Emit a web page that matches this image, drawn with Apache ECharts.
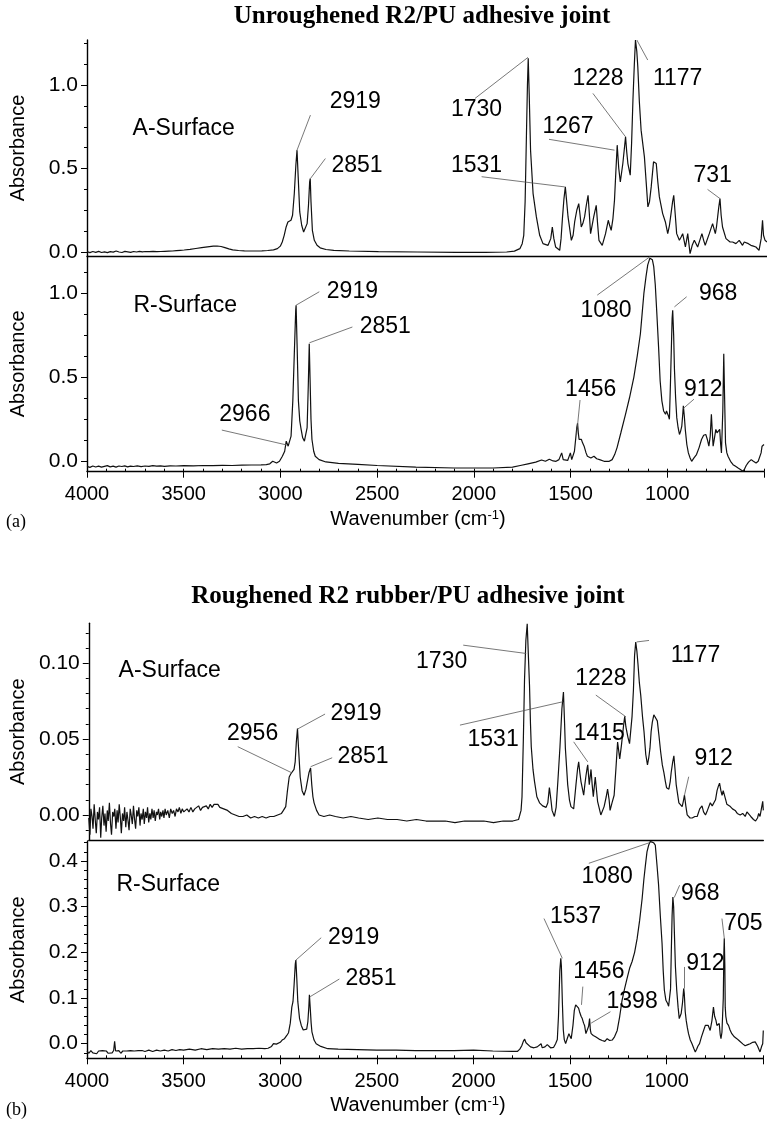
<!DOCTYPE html>
<html><head><meta charset="utf-8">
<script src="https://cdn.jsdelivr.net/npm/echarts@6/dist/echarts.min.js"></script>
<style>html,body{margin:0;padding:0;background:#fff}#c{width:767px;height:1125px}</style>
</head><body><div id="c"></div>
<script>
// ---------- DATA ----------
const xTickValues = [1000, 1500, 2000, 2500, 3000, 3500, 4000];
const titles = ['Unroughened R2/PU adhesive joint', 'Roughened R2 rubber/PU adhesive joint'];
const panelTags = ['(a)', '(b)'];
const surfaceNames = ['A-Surface', 'R-Surface', 'A-Surface', 'R-Surface'];

const yMajorA1 = [0, 0.5, 1.0];
const yMinorA1 = [0.125, 0.25, 0.375, 0.625, 0.75, 0.875, 1.125, 1.25];
const yMajorR1 = [0, 0.5, 1.0];
const yMinorR1 = [0.125, 0.25, 0.375, 0.625, 0.75, 0.875, 1.125];
const yMajorA2 = [0, 0.05, 0.10];
const yMinorA2 = [-0.01, 0.01, 0.02, 0.03, 0.04, 0.06, 0.07, 0.08, 0.09, 0.11, 0.12];
const yMajorR2 = [0, 0.1, 0.2, 0.3, 0.4];
const yMinorR2 = [-0.02, 0.02, 0.04, 0.06, 0.08, 0.12, 0.14, 0.16, 0.18, 0.22, 0.24, 0.26, 0.28, 0.32, 0.34, 0.36, 0.38, 0.42, 0.44];

// Unroughened, A-surface [wavenumber, absorbance]
const specA1 = [[4000,0.002],[3985,-0.004],[3970,0.003],[3955,-0.002],[3940,0.004],[3925,-0.003],[3910,0.001],[3895,-0.004],[3880,0.002],[3865,-0.001],[3850,0.006],[3835,0.0],[3820,-0.003],[3805,0.004],[3790,0.001],[3775,-0.002],[3760,0.003],[3745,0.0],[3730,0.004],[3715,0.001],[3700,0.003],[3680,0.002],[3660,0.004],[3640,0.002],[3620,0.003],[3600,0.004],[3580,0.005],[3560,0.006],[3540,0.008],[3520,0.01],[3500,0.012],[3470,0.016],[3440,0.021],[3410,0.026],[3380,0.031],[3350,0.035],[3330,0.036],[3310,0.033],[3290,0.026],[3270,0.019],[3250,0.013],[3220,0.009],[3190,0.007],[3160,0.006],[3130,0.006],[3100,0.007],[3070,0.009],[3040,0.013],[3020,0.02],[3005,0.035],[2995,0.06],[2985,0.1],[2975,0.15],[2966,0.18],[2958,0.19],[2950,0.19],[2942,0.22],[2933,0.35],[2925,0.52],[2919,0.61],[2913,0.45],[2905,0.24],[2895,0.16],[2885,0.12],[2875,0.13],[2867,0.17],[2860,0.28],[2854,0.42],[2851,0.44],[2847,0.3],[2840,0.13],[2830,0.07],[2816,0.04],[2800,0.025],[2770,0.015],[2730,0.01],[2650,0.006],[2500,0.002],[2300,0.0],[2100,-0.002],[1950,-0.002],[1840,0.0],[1800,0.005],[1772,0.02],[1760,0.05],[1752,0.1],[1745,0.3],[1738,0.71],[1733,1.0],[1729,1.16],[1724,0.95],[1717,0.61],[1704,0.35],[1687,0.21],[1670,0.1],[1653,0.05],[1627,0.04],[1613,0.08],[1605,0.15],[1597,0.08],[1588,0.03],[1567,0.01],[1560,0.08],[1553,0.2],[1545,0.32],[1538,0.39],[1531,0.3],[1524,0.21],[1507,0.07],[1498,0.1],[1490,0.18],[1479,0.25],[1469,0.29],[1462,0.22],[1456,0.15],[1448,0.17],[1439,0.21],[1430,0.28],[1421,0.34],[1414,0.22],[1408,0.11],[1400,0.16],[1392,0.21],[1379,0.28],[1372,0.17],[1365,0.07],[1348,0.04],[1331,0.11],[1317,0.19],[1310,0.16],[1302,0.13],[1293,0.2],[1285,0.31],[1278,0.48],[1271,0.64],[1263,0.5],[1255,0.42],[1242,0.53],[1228,0.69],[1222,0.6],[1216,0.53],[1204,0.46],[1197,0.65],[1190,0.91],[1183,1.12],[1177,1.27],[1170,1.2],[1165,1.11],[1157,0.9],[1148,0.73],[1131,0.57],[1122,0.42],[1113,0.27],[1105,0.3],[1096,0.39],[1084,0.54],[1070,0.53],[1062,0.42],[1054,0.33],[1037,0.23],[1023,0.18],[1011,0.11],[1002,0.16],[994,0.23],[986,0.3],[980,0.34],[972,0.22],[965,0.11],[951,0.07],[942,0.09],[934,0.11],[920,0.03],[908,0.11],[902,0.05],[896,-0.01],[885,0.04],[874,0.07],[857,0.03],[846,0.07],[835,0.11],[826,0.07],[818,0.04],[797,0.11],[780,0.17],[773,0.14],[766,0.11],[760,0.15],[754,0.21],[748,0.27],[742,0.32],[736,0.22],[729,0.15],[711,0.08],[690,0.06],[677,0.06],[660,0.05],[643,0.07],[626,0.04],[617,0.06],[609,0.07],[596,0.05],[583,0.04],[570,0.035],[557,0.03],[541,0.01],[530,0.08],[523,0.19],[518,0.1],[510,0.07],[500,0.06]];

// Unroughened, R-surface
const specR1 = [[4000,-0.03],[3985,-0.036],[3970,-0.028],[3955,-0.034],[3940,-0.029],[3925,-0.035],[3910,-0.03],[3895,-0.026],[3880,-0.033],[3865,-0.029],[3850,-0.035],[3835,-0.028],[3820,-0.031],[3805,-0.027],[3790,-0.033],[3775,-0.029],[3760,-0.031],[3740,-0.027],[3720,-0.032],[3700,-0.028],[3680,-0.03],[3660,-0.026],[3640,-0.029],[3620,-0.027],[3600,-0.03],[3570,-0.027],[3540,-0.028],[3500,-0.026],[3450,-0.027],[3400,-0.025],[3350,-0.026],[3300,-0.024],[3250,-0.025],[3200,-0.023],[3150,-0.022],[3100,-0.021],[3073,-0.02],[3055,-0.015],[3040,0.0],[3030,-0.005],[3020,-0.01],[3005,0.0],[2990,0.03],[2978,0.06],[2970,0.12],[2966,0.13],[2960,0.09],[2953,0.08],[2945,0.15],[2936,0.36],[2928,0.65],[2921,0.9],[2919,0.93],[2914,0.7],[2907,0.36],[2900,0.24],[2893,0.19],[2885,0.14],[2876,0.12],[2868,0.13],[2862,0.2],[2856,0.45],[2851,0.70],[2847,0.5],[2842,0.25],[2837,0.13],[2828,0.06],[2820,0.03],[2800,0.01],[2765,-0.004],[2700,-0.012],[2600,-0.018],[2500,-0.025],[2300,-0.035],[2100,-0.04],[1900,-0.04],[1800,-0.035],[1760,-0.025],[1720,-0.015],[1680,-0.005],[1650,0.008],[1644,0.01],[1630,0.0],[1610,0.012],[1600,0.012],[1590,0.002],[1575,0.0],[1560,0.01],[1546,0.05],[1538,0.01],[1532,0.0],[1515,0.005],[1501,0.05],[1494,0.01],[1488,0.0],[1480,0.06],[1473,0.14],[1468,0.2],[1464,0.226],[1460,0.17],[1456,0.13],[1450,0.14],[1444,0.13],[1438,0.11],[1430,0.09],[1420,0.05],[1413,0.03],[1395,0.02],[1379,0.03],[1365,0.015],[1350,0.01],[1327,0.0],[1300,0.0],[1285,0.01],[1272,0.04],[1260,0.08],[1240,0.17],[1216,0.28],[1195,0.38],[1173,0.50],[1155,0.63],[1139,0.76],[1130,0.88],[1121,1.0],[1110,1.1],[1101,1.17],[1090,1.21],[1084,1.22],[1077,1.2],[1070,1.16],[1062,1.05],[1054,0.88],[1045,0.68],[1037,0.48],[1028,0.36],[1019,0.3],[1014,0.29],[1009,0.28],[1004,0.3],[999,0.3],[994,0.27],[989,0.25],[984,0.45],[979,0.67],[975,0.85],[972,0.9],[967,0.75],[963,0.55],[957,0.38],[951,0.26],[944,0.2],[937,0.16],[931,0.18],[925,0.21],[920,0.28],[917,0.33],[912,0.27],[907,0.19],[899,0.1],[891,0.05],[882,0.02],[874,0.0],[862,0.02],[849,0.04],[836,0.08],[823,0.13],[812,0.155],[801,0.16],[793,0.13],[785,0.09],[778,0.15],[772,0.28],[767,0.17],[763,0.09],[756,0.14],[749,0.19],[743,0.17],[737,0.16],[733,0.18],[729,0.19],[724,0.1],[720,0.05],[713,0.3],[708,0.64],[704,0.4],[699,0.11],[692,0.05],[686,0.03],[673,0.0],[660,-0.02],[647,-0.03],[634,-0.04],[620,-0.05],[609,-0.06],[600,-0.045],[592,-0.025],[580,-0.005],[566,0.01],[555,0.0],[541,-0.01],[530,0.0],[523,0.01],[515,0.05],[510,0.09],[500,0.1]];

// Roughened, A-surface
const specA2 = [[4000,-0.002],[3994,-0.013],[3989,0.004],[3983,-0.001],[3978,-0.009],[3972,0.007],[3966,-0.004],[3961,-0.012],[3955,0.002],[3950,-0.003],[3944,0.005],[3938,-0.015],[3933,-0.002],[3927,0.006],[3921,-0.007],[3916,0.001],[3910,-0.011],[3904,0.003],[3899,-0.004],[3893,0.008],[3887,-0.006],[3882,-0.013],[3876,0.002],[3870,-0.001],[3865,0.004],[3859,-0.009],[3853,0.003],[3848,-0.005],[3842,0.007],[3836,-0.002],[3831,-0.012],[3825,0.001],[3819,-0.004],[3814,0.005],[3808,-0.008],[3802,0.002],[3797,-0.003],[3791,-0.01],[3785,0.004],[3780,0.0],[3774,-0.006],[3768,0.006],[3763,-0.002],[3757,-0.009],[3751,0.003],[3746,-0.001],[3740,0.005],[3734,-0.007],[3729,0.001],[3723,-0.003],[3717,0.004],[3712,-0.006],[3706,0.002],[3700,-0.002],[3695,0.005],[3689,-0.005],[3683,0.001],[3678,-0.003],[3672,0.004],[3666,-0.002],[3661,0.003],[3655,-0.004],[3649,0.002],[3644,0.0],[3638,0.004],[3632,-0.003],[3627,0.002],[3621,-0.001],[3615,0.003],[3610,-0.002],[3604,0.004],[3598,0.0],[3590,0.003],[3582,-0.002],[3575,0.004],[3567,0.001],[3560,0.003],[3552,-0.001],[3545,0.004],[3537,0.002],[3530,0.005],[3522,0.001],[3515,0.004],[3507,0.002],[3500,0.003],[3490,0.004],[3480,0.002],[3470,0.005],[3460,0.002],[3450,0.004],[3440,0.003],[3430,0.006],[3420,0.003],[3410,0.005],[3400,0.004],[3390,0.006],[3380,0.004],[3370,0.007],[3360,0.005],[3350,0.007],[3340,0.006],[3330,0.007],[3320,0.005],[3310,0.006],[3300,0.004],[3290,0.005],[3280,0.003],[3270,0.003],[3260,0.001],[3250,0.002],[3240,0.0],[3230,0.001],[3220,-0.001],[3210,0.0],[3200,-0.001],[3180,0.0],[3160,-0.002],[3140,-0.001],[3120,-0.002],[3100,-0.001],[3080,-0.002],[3060,-0.001],[3040,-0.001],[3020,0.0],[3000,0.001],[2990,0.003],[2978,0.0055],[2970,0.015],[2960,0.025],[2952,0.027],[2943,0.028],[2935,0.03],[2929,0.035],[2923,0.048],[2917,0.057],[2912,0.045],[2903,0.025],[2893,0.016],[2883,0.013],[2873,0.017],[2866,0.022],[2857,0.028],[2849,0.031],[2843,0.02],[2837,0.012],[2831,0.008],[2818,0.003],[2805,0.0],[2780,-0.001],[2750,0.0],[2720,-0.001],[2680,-0.002],[2640,-0.001],[2600,-0.002],[2550,-0.003],[2500,-0.002],[2450,-0.003],[2400,-0.003],[2350,-0.004],[2300,-0.003],[2250,-0.004],[2200,-0.004],[2150,-0.004],[2100,-0.005],[2050,-0.004],[2000,-0.004],[1950,-0.004],[1900,-0.005],[1850,-0.004],[1800,-0.004],[1770,-0.003],[1764,-0.003],[1757,0.003],[1752,0.012],[1745,0.05],[1739,0.089],[1732,0.115],[1725,0.126],[1719,0.105],[1713,0.085],[1708,0.06],[1704,0.045],[1695,0.03],[1687,0.022],[1675,0.012],[1661,0.008],[1645,0.006],[1627,0.005],[1618,0.008],[1610,0.018],[1602,0.01],[1596,0.003],[1584,-0.001],[1575,0.005],[1566,0.022],[1555,0.045],[1545,0.07],[1537,0.081],[1531,0.06],[1527,0.044],[1515,0.02],[1506,0.01],[1498,0.0055],[1484,0.004],[1478,0.012],[1472,0.02],[1464,0.03],[1458,0.035],[1452,0.028],[1446,0.022],[1432,0.013],[1426,0.02],[1420,0.026],[1414,0.031],[1411,0.033],[1403,0.02],[1394,0.03],[1388,0.02],[1382,0.012],[1372,0.025],[1360,0.009],[1343,0.0],[1326,0.0055],[1315,0.012],[1308,0.017],[1300,0.01],[1295,0.003],[1285,0.008],[1274,0.013],[1265,0.03],[1256,0.048],[1250,0.042],[1245,0.037],[1236,0.046],[1225,0.059],[1219,0.065],[1213,0.058],[1202,0.051],[1194,0.047],[1188,0.046],[1181,0.065],[1174,0.082],[1168,0.105],[1162,0.114],[1156,0.108],[1150,0.099],[1143,0.087],[1136,0.079],[1127,0.065],[1119,0.055],[1110,0.04],[1101,0.033],[1094,0.038],[1088,0.044],[1082,0.055],[1076,0.061],[1068,0.066],[1059,0.067],[1050,0.062],[1042,0.053],[1033,0.042],[1024,0.033],[1016,0.028],[1008,0.022],[1002,0.018],[990,0.017],[983,0.022],[978,0.028],[970,0.035],[964,0.039],[958,0.03],[952,0.02],[938,0.008],[921,0.0055],[915,0.009],[909,0.013],[902,0.006],[895,0.0],[880,-0.002],[869,-0.002],[855,-0.001],[843,-0.001],[830,0.004],[818,0.006],[810,0.002],[800,0.0],[790,0.003],[775,0.008],[765,0.006],[758,0.0055],[748,0.01],[740,0.016],[733,0.019],[727,0.021],[720,0.016],[714,0.013],[708,0.016],[702,0.017],[695,0.01],[689,0.007],[680,0.006],[671,0.0055],[660,0.004],[646,0.003],[635,0.001],[620,0.0],[607,0.001],[594,-0.001],[585,0.002],[577,0.003],[565,-0.001],[551,-0.003],[540,-0.004],[530,-0.002],[524,0.001],[517,-0.001],[510,0.004],[503,0.009],[500,0.003]];

// Roughened, R-surface
const specR2 = [[4000,-0.016],[3990,-0.021],[3980,-0.015],[3970,-0.02],[3960,-0.017],[3950,-0.022],[3940,-0.016],[3930,-0.02],[3920,-0.015],[3910,-0.019],[3900,-0.016],[3890,-0.021],[3880,-0.017],[3870,-0.02],[3862,-0.015],[3857,0.005],[3852,-0.016],[3845,-0.019],[3835,-0.015],[3825,-0.021],[3815,-0.016],[3805,-0.02],[3795,-0.016],[3785,-0.019],[3775,-0.015],[3765,-0.019],[3755,-0.016],[3745,-0.018],[3735,-0.015],[3725,-0.018],[3715,-0.015],[3700,-0.017],[3680,-0.014],[3660,-0.017],[3640,-0.014],[3620,-0.016],[3600,-0.014],[3580,-0.016],[3560,-0.013],[3540,-0.015],[3520,-0.013],[3500,-0.014],[3470,-0.012],[3440,-0.014],[3410,-0.011],[3380,-0.013],[3350,-0.011],[3320,-0.012],[3290,-0.011],[3260,-0.012],[3230,-0.01],[3200,-0.012],[3170,-0.011],[3140,-0.011],[3110,-0.01],[3080,-0.011],[3063,-0.01],[3045,-0.006],[3035,0.0],[3029,0.003],[3020,-0.001],[3012,-0.003],[3000,0.003],[2990,0.008],[2978,0.011],[2966,0.018],[2957,0.024],[2948,0.045],[2940,0.08],[2934,0.092],[2928,0.13],[2922,0.175],[2919,0.183],[2914,0.14],[2909,0.092],[2900,0.055],[2891,0.04],[2881,0.03],[2871,0.026],[2863,0.032],[2857,0.048],[2852,0.08],[2849,0.107],[2845,0.08],[2840,0.045],[2836,0.026],[2825,0.008],[2814,0.0],[2790,-0.006],[2754,-0.011],[2700,-0.012],[2600,-0.013],[2500,-0.014],[2400,-0.014],[2300,-0.015],[2200,-0.015],[2100,-0.015],[2000,-0.014],[1900,-0.016],[1800,-0.017],[1773,-0.017],[1760,-0.012],[1750,-0.0045],[1742,0.005],[1735,0.010],[1728,0.002],[1721,-0.002],[1705,-0.007],[1687,-0.009],[1670,-0.007],[1661,-0.003],[1650,0.0],[1644,-0.009],[1630,-0.007],[1618,-0.002],[1610,0.0],[1601,-0.009],[1585,-0.008],[1575,0.0],[1566,0.009],[1560,0.06],[1553,0.16],[1548,0.187],[1545,0.17],[1540,0.092],[1535,0.03],[1530,0.009],[1523,0.0],[1514,0.012],[1506,0.022],[1500,0.016],[1494,0.011],[1485,0.04],[1478,0.073],[1471,0.085],[1463,0.089],[1456,0.078],[1451,0.07],[1443,0.06],[1437,0.055],[1430,0.045],[1425,0.04],[1418,0.022],[1411,0.02],[1404,0.038],[1399,0.055],[1395,0.03],[1391,0.022],[1380,0.018],[1368,0.015],[1350,0.01],[1334,0.007],[1320,0.005],[1308,0.011],[1295,0.007],[1282,0.008],[1270,0.015],[1256,0.029],[1243,0.06],[1231,0.095],[1218,0.12],[1205,0.143],[1192,0.165],[1179,0.18],[1166,0.2],[1153,0.23],[1140,0.27],[1127,0.318],[1118,0.36],[1110,0.391],[1102,0.42],[1093,0.435],[1085,0.443],[1076,0.444],[1068,0.44],[1059,0.435],[1050,0.39],[1042,0.348],[1033,0.28],[1024,0.22],[1018,0.16],[1012,0.117],[1004,0.095],[995,0.088],[990,0.082],[985,0.08],[980,0.12],[976,0.204],[972,0.28],[968,0.321],[964,0.3],[960,0.241],[955,0.17],[948,0.117],[941,0.08],[935,0.055],[930,0.055],[925,0.066],[918,0.09],[912,0.121],[909,0.11],[904,0.07],[899,0.051],[893,0.035],[887,0.022],[878,0.008],[869,0.0],[860,-0.01],[852,-0.018],[845,-0.012],[838,-0.005],[830,0.0],[820,0.015],[809,0.029],[800,0.04],[792,0.044],[785,0.04],[775,0.029],[766,0.05],[758,0.08],[752,0.06],[745,0.051],[740,0.04],[737,0.037],[733,0.044],[728,0.044],[723,0.02],[719,0.011],[714,0.025],[711,0.029],[707,0.1],[704,0.2],[702,0.231],[699,0.17],[697,0.08],[694,0.06],[688,0.045],[680,0.04],[672,0.03],[663,0.022],[650,0.015],[637,0.011],[626,0.007],[616,0.004],[605,-0.001],[594,-0.0045],[580,-0.002],[568,0.0],[555,0.003],[542,0.004],[530,-0.005],[517,-0.018],[508,-0.005],[503,0.0],[500,0.029]];

// Peak annotations: [text, labelWn, labelAbs, lineFromWn, lineFromAbs, lineToWn, lineToAbs]
const annA1 = [['2919',2619,0.90,2850,0.82,2919,0.61],['2851',2610,0.52,2773,0.56,2850,0.44],['1730',1995,0.85,2003,0.92,1730,1.166],['1531',1995,0.517,1969,0.451,1541,0.39],['1267',1524,0.75,1622,0.675,1285,0.61],['1228',1370,1.04,1396,0.95,1228,0.69],['1177',960,1.04,1170,1.27,1114,1.15],['731',780,0.46,806,0.375,742,0.32]];
const annR1 = [['2919',2628,1.01,2799,1.01,2919,0.93],['2851',2458,0.80,2628,0.80,2850,0.706],['2966',3184,0.276,3303,0.186,2967,0.097],['1080',1317,0.90,1362,0.99,1088,1.22],['968',737,1.0,900,0.98,963,0.92],['1456',1396,0.424,1451,0.365,1469,0.157],['912',814,0.424,862,0.37,917,0.315]];
const annA2 = [['2919',2613,0.067,2774,0.0665,2917,0.0566],['2956',3150,0.0538,3227,0.045,2947,0.0278],['2851',2577,0.0384,2737,0.0377,2849,0.0318],['1730',2169,0.1009,2057,0.1119,1730,0.1064],['1531',1902,0.0494,2074,0.0592,1540,0.0746],['1228',1343,0.09,1369,0.079,1213,0.0647],['1415',1351,0.0538,1484,0.0482,1411,0.035],['1177',852,0.1053,1157,0.114,1093,0.115],['912',758,0.0373,887,0.0252,909,0.013]];
const annR2 = [['2919',2620,0.232,2788,0.232,2919,0.183],['2851',2530,0.1416,2694,0.1416,2845,0.103],['1080',1308,0.365,1403,0.395,1076,0.442],['968',826,0.329,933,0.347,961,0.32],['1537',1472,0.278,1635,0.274,1540,0.187],['1456',1351,0.158,1434,0.125,1441,0.085],['1398',1179,0.092,1291,0.07,1391,0.045],['912',800,0.176,909,0.168,909,0.121],['705',603,0.263,714,0.274,702,0.231]];
// surface caption anchor [wn, abs]
const surfPos = [[3502,0.74],[3492,0.93],[3580,0.0954],[3580,0.349]];

// ---------- CHART ----------
const FONT = 'Liberation Sans, Arial, sans-serif';
const SERIF = 'Liberation Serif, Times New Roman, serif';
const panels = [
  {spec: specA1, ann: annA1, yMin: -0.024, yMax: 1.27, major: yMajorA1, minor: yMinorA1, dig: 1, bottom: false,
   grid: {left: 86, top: 40, width: 681, height: 216}},
  {spec: specR1, ann: annR1, yMin: -0.062, yMax: 1.223, major: yMajorR1, minor: yMinorR1, dig: 1, bottom: true,
   grid: {left: 86, top: 256, width: 681, height: 215.7}},
  {spec: specA2, ann: annA2, yMin: -0.0165, yMax: 0.1263, major: yMajorA2, minor: yMinorA2, dig: 2, bottom: false,
   grid: {left: 85.3, top: 623.3, width: 678, height: 216.7}},
  {spec: specR2, ann: annR2, yMin: -0.032, yMax: 0.4438, major: yMajorR2, minor: yMinorR2, dig: 1, bottom: true,
   grid: {left: 85.3, top: 841, width: 678, height: 217.3}}
];

const grid = [], xAxis = [], yAxis = [], series = [];
const axisLineStyle = {color: '#000', width: 1.4};
panels.forEach((p, i) => {
  grid.push(p.grid);
  xAxis.push({
    gridIndex: i, type: 'value', min: 500, max: 4000, inverse: true, interval: 500, position: 'bottom',
    axisLine: {show: true, onZero: false, lineStyle: axisLineStyle},
    axisTick: {show: p.bottom, inside: false, length: 6, lineStyle: {color: '#000', width: 1}},
    axisLabel: {show: p.bottom, fontFamily: FONT, fontSize: 20, color: '#000', margin: 13,
      formatter: v => (xTickValues.indexOf(v) >= 0 ? String(v) : '')},
    splitLine: {show: false}
  });
  xAxis.push({
    gridIndex: i, type: 'value', min: 500, max: 4000, inverse: true, interval: 100, position: 'bottom',
    axisLine: {show: false, onZero: false},
    axisTick: {show: p.bottom, inside: true, length: 3, lineStyle: {color: '#000', width: 1}},
    axisLabel: {show: false}, splitLine: {show: false}
  });
  yAxis.push({
    gridIndex: i, type: 'value', min: p.yMin, max: p.yMax, position: 'left',
    axisLine: {show: true, onZero: false, lineStyle: axisLineStyle},
    axisTick: {show: true, inside: false, length: 6, customValues: p.major, lineStyle: {color: '#000', width: 1}},
    axisLabel: {show: true, customValues: p.major, fontFamily: FONT, fontSize: 21, color: '#000', margin: 9,
      formatter: v => Number(v).toFixed(p.dig)},
    splitLine: {show: false},
    name: 'Absorbance', nameLocation: 'middle', nameGap: 59,
    nameTextStyle: {fontFamily: FONT, fontSize: 20, color: '#000'}
  });
  yAxis.push({
    gridIndex: i, type: 'value', min: p.yMin, max: p.yMax, position: 'left',
    axisLine: {show: false, onZero: false},
    axisTick: {show: true, inside: false, length: 3, customValues: p.minor, lineStyle: {color: '#000', width: 1}},
    axisLabel: {show: false}, splitLine: {show: false}
  });
  series.push({
    type: 'line', xAxisIndex: 2 * i, yAxisIndex: 2 * i, data: p.spec, showSymbol: false, symbol: 'none',
    lineStyle: {color: '#111', width: 1.2}, clip: true, silent: true, z: 3
  });
  const labels = p.ann.map(a => ({name: a[0], value: [a[1], a[2]]}));
  labels.push({name: surfaceNames[i], value: surfPos[i]});
  series.push({
    type: 'scatter', xAxisIndex: 2 * i, yAxisIndex: 2 * i, symbolSize: 1,
    itemStyle: {color: 'rgba(255,255,255,0)'}, silent: true, z: 5,
    label: {show: true, position: 'inside', formatter: '{b}', fontFamily: FONT, fontSize: 23,
      color: '#000', textBorderWidth: 0, textBorderColor: 'transparent', opacity: 1},
    data: labels,
    markLine: {
      silent: true, symbol: ['none', 'none'], animation: false, label: {show: false},
      lineStyle: {color: '#555', width: 0.8, type: 'solid'},
      data: p.ann.map(a => [{coord: [a[3], a[4]]}, {coord: [a[5], a[6]]}])
    }
  });
});

const wnText = (y) => ({
  type: 'text', x: 418, y: y,
  style: {text: 'Wavenumber (cm{sup|-1})', fontFamily: FONT, fontSize: 20, fill: '#000',
    textAlign: 'center', textVerticalAlign: 'middle',
    rich: {sup: {fontFamily: FONT, fontSize: 13, verticalAlign: 'top', fill: '#000'}}}
});
const graphic = [
  {type: 'text', x: 422, y: 17, style: {text: titles[0], font: 'bold 25px ' + SERIF, fill: '#000', textAlign: 'center', textVerticalAlign: 'middle'}},
  {type: 'text', x: 408, y: 597, style: {text: titles[1], font: 'bold 25px ' + SERIF, fill: '#000', textAlign: 'center', textVerticalAlign: 'middle'}},
  wnText(519), wnText(1105),
  {type: 'text', x: 6, y: 522, style: {text: panelTags[0], font: '18px ' + SERIF, fill: '#000', textAlign: 'left', textVerticalAlign: 'middle'}},
  {type: 'text', x: 6, y: 1110, style: {text: panelTags[1], font: '18px ' + SERIF, fill: '#000', textAlign: 'left', textVerticalAlign: 'middle'}}
];

const chart = echarts.init(document.getElementById('c'), null, {renderer: 'canvas'});
chart.setOption({
  animation: false, backgroundColor: '#fff',
  textStyle: {fontFamily: FONT},
  grid, xAxis, yAxis, series, graphic
});
</script></body></html>
